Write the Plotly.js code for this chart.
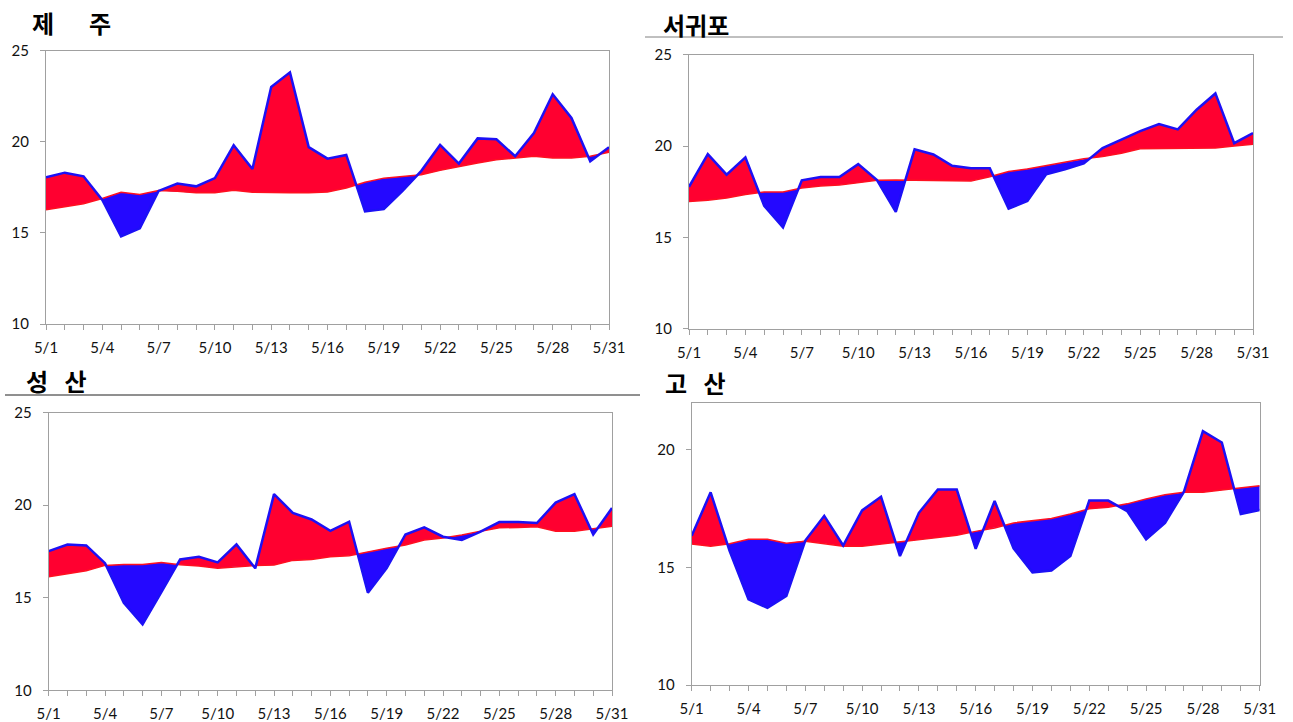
<!DOCTYPE html>
<html>
<head>
<meta charset="utf-8">
<script src="https://cdn.plot.ly/plotly-3.0.1.min.js"></script>
<style>
html,body{margin:0;padding:0;background:#fff;}
#chart{width:1293px;height:722px;}
</style>
</head>
<body>
<div id="chart"></div>
<script>
// ---- data ----
const days = [1,2,3,4,5,6,7,8,9,10,11,12,13,14,15,16,17,18,19,20,21,22,23,24,25,26,27,28,29,30,31];
const tickDays = [1,4,7,10,13,16,19,22,25,28,31];
const tickLabels = ["5/1","5/4","5/7","5/10","5/13","5/16","5/19","5/22","5/25","5/28","5/31"];

const stationNames = ["제\u3000\u00a0\u00a0주", "서귀포", "성\u00a0\u00a0\u00a0산", "고\u00a0\u00a0\u00a0산"];

const jejuActual = [18.05,18.3,18.1,16.8,14.8,15.25,17.3,17.7,17.55,18.0,19.8,18.5,23.0,23.8,19.7,19.07,19.27,16.17,16.3,17.3,18.4,19.82,18.8,20.18,20.13,19.2,20.47,22.6,21.3,18.92,19.7];
const jejuNormal = [16.26,16.42,16.6,16.88,17.23,17.1,17.32,17.28,17.2,17.2,17.33,17.23,17.2,17.2,17.2,17.24,17.46,17.77,18.0,18.1,18.19,18.43,18.65,18.83,19.01,19.1,19.2,19.1,19.1,19.2,19.42];

const seogwipoActual = [17.77,19.56,18.43,19.38,16.73,15.55,18.12,18.3,18.3,19.01,18.14,16.39,19.82,19.54,18.92,18.78,18.78,16.57,16.99,18.45,18.72,19.05,19.89,20.36,20.82,21.2,20.91,21.99,22.88,20.16,20.71];
const seogwipoNormal = [16.97,17.03,17.15,17.35,17.48,17.48,17.7,17.81,17.86,17.99,18.12,18.14,18.12,18.08,18.08,18.08,18.32,18.6,18.74,18.92,19.12,19.31,19.42,19.6,19.85,19.87,19.89,19.89,19.89,20.0,20.1];

const seongsanActual = [17.52,17.88,17.83,16.87,14.73,13.56,15.3,17.07,17.22,16.91,17.88,16.59,20.6,19.59,19.23,18.62,19.11,15.27,16.6,18.42,18.8,18.3,18.12,18.57,19.09,19.09,19.04,20.14,20.6,18.42,19.85];
const seongsanNormal = [16.14,16.28,16.46,16.75,16.8,16.8,16.91,16.78,16.71,16.59,16.69,16.75,16.77,17.02,17.07,17.22,17.27,17.49,17.67,17.85,18.12,18.23,18.39,18.6,18.78,18.8,18.84,18.6,18.6,18.73,18.87];

const gosanActual = [16.34,18.19,15.7,13.64,13.28,13.79,16.14,17.19,15.93,17.42,18.0,15.48,17.32,18.31,18.31,15.79,17.82,15.81,14.79,14.87,15.48,17.84,17.84,17.39,16.19,16.89,18.22,20.79,20.31,17.27,17.44];
const gosanNormal = [15.99,15.9,16.0,16.2,16.2,16.03,16.11,16.02,15.9,15.9,15.99,16.1,16.2,16.29,16.37,16.53,16.67,16.89,16.99,17.08,17.27,17.49,17.56,17.7,17.91,18.09,18.19,18.19,18.29,18.39,18.47];

const yRanges = [[10,25],[10,25],[10,25],[10,22]];
const yTicks = [[10,15,20,25],[10,15,20,25],[10,15,20,25],[10,15,20]];

// ---- styles ----
const RED_FILL = "#ff0030";
const BLUE_FILL = "#2408ff";
const BLUE_LINE = "#1c10f5";
const RED_LINE = "#ff1020";
const AXIS_COL = "#a0a0a0";

// derived band geometry (includes crossing points computed from data)
function bands(x, a, n) {
  const X = [], N = [], HI = [], LO = [];
  for (let i = 0; i < x.length; i++) {
    X.push(x[i]); N.push(n[i]);
    HI.push(Math.max(a[i], n[i])); LO.push(Math.min(a[i], n[i]));
    if (i < x.length - 1) {
      const d0 = a[i] - n[i], d1 = a[i+1] - n[i+1];
      if (d0 * d1 < 0) {
        const t = d0 / (d0 - d1);
        const xc = x[i] + t * (x[i+1] - x[i]);
        const yc = n[i] + t * (n[i+1] - n[i]);
        X.push(xc); N.push(yc); HI.push(yc); LO.push(yc);
      }
    }
  }
  return {X, N, HI, LO};
}

const series = [
  [jejuActual, jejuNormal],
  [seogwipoActual, seogwipoNormal],
  [seongsanActual, seongsanNormal],
  [gosanActual, gosanNormal]
];

// panel boxes in pixels [left, right, top, bottom]
const W = 1293, H = 722;
const boxes = [
  [46, 609, 50.5, 324],
  [689, 1253, 54.7, 328.7],
  [48.7, 612, 412.7, 690.3],
  [691.7, 1259.7, 402.7, 685]
];

const traces = [];
const layout = {
  width: W, height: H,
  margin: {l:0, r:0, t:0, b:0},
  paper_bgcolor: "#fff", plot_bgcolor: "#fff",
  showlegend: false,
  annotations: [], shapes: []
};

series.forEach((s, k) => {
  const idx = k === 0 ? "" : String(k + 1);
  const xa = "x" + idx, ya = "y" + idx;
  const b = bands(days, s[0], s[1]);
  const hidden = {mode: "lines", line: {width: 0}, hoverinfo: "skip", xaxis: xa, yaxis: ya};
  traces.push(Object.assign({x: b.X, y: b.N}, hidden));
  traces.push(Object.assign({x: b.X, y: b.HI, fill: "tonexty", fillcolor: RED_FILL}, hidden));
  traces.push(Object.assign({x: b.X, y: b.N}, hidden));
  traces.push(Object.assign({x: b.X, y: b.LO, fill: "tonexty", fillcolor: BLUE_FILL}, hidden));
  traces.push({x: days, y: s[1], mode: "lines", line: {color: RED_LINE, width: 1.5}, xaxis: xa, yaxis: ya, hoverinfo: "skip"});
  traces.push({x: days, y: s[0], mode: "lines", line: {color: BLUE_LINE, width: 2.5}, xaxis: xa, yaxis: ya, hoverinfo: "skip"});

  const bx = boxes[k];
  layout["xaxis" + idx] = {
    domain: [bx[0] / W, bx[1] / W],
    anchor: ya,
    range: [1, 31],
    tickmode: "array", tickvals: tickDays, ticktext: tickLabels,
    ticks: "outside", ticklen: 5, tickcolor: AXIS_COL, tickwidth: 1,
    minor: {tickmode: "linear", tick0: 1, dtick: 1, ticks: "outside", ticklen: 5, tickcolor: AXIS_COL, tickwidth: 1, showgrid: false},
    showline: true, linecolor: AXIS_COL, linewidth: 1, mirror: true,
    showgrid: false, zeroline: false,
    tickfont: {family: "Lato, 'Liberation Sans', sans-serif", size: 15, color: "#111"},
    ticklabelstandoff: 5,
    fixedrange: true
  };
  layout["yaxis" + idx] = {
    domain: [1 - bx[3] / H, 1 - bx[2] / H],
    anchor: xa,
    range: yRanges[k],
    tickmode: "array", tickvals: yTicks[k],
    ticks: "outside", ticklen: 5, tickcolor: AXIS_COL, tickwidth: 1,
    showline: true, linecolor: AXIS_COL, linewidth: 1, mirror: true,
    showgrid: false, zeroline: false,
    tickfont: {family: "Lato, 'Liberation Sans', sans-serif", size: 15, color: "#111"},
    ticklabelstandoff: 8,
    fixedrange: true
  };
});

// station titles
const titlePos = [[71, 22], [696, 24], [56, 381], [695, 382]];
stationNames.forEach((t, k) => {
  layout.annotations.push({
    text: t, xref: "paper", yref: "paper",
    x: titlePos[k][0] / W, y: 1 - titlePos[k][1] / H,
    xanchor: "center", yanchor: "middle", showarrow: false,
    font: {family: "'Noto Sans CJK KR', sans-serif", size: 24, color: "#000", weight: 600}
  });
});

// separator lines under titles
layout.shapes.push({type: "line", xref: "paper", yref: "paper",
  x0: 645 / W, x1: 1283 / W, y0: 1 - 37 / H, y1: 1 - 37 / H,
  line: {color: "#808080", width: 1}});
layout.shapes.push({type: "line", xref: "paper", yref: "paper",
  x0: 5 / W, x1: 640 / W, y0: 1 - 395 / H, y1: 1 - 395 / H,
  line: {color: "#202020", width: 1}});

Plotly.newPlot("chart", traces, layout, {staticPlot: true, displayModeBar: false});
</script>
</body>
</html>
